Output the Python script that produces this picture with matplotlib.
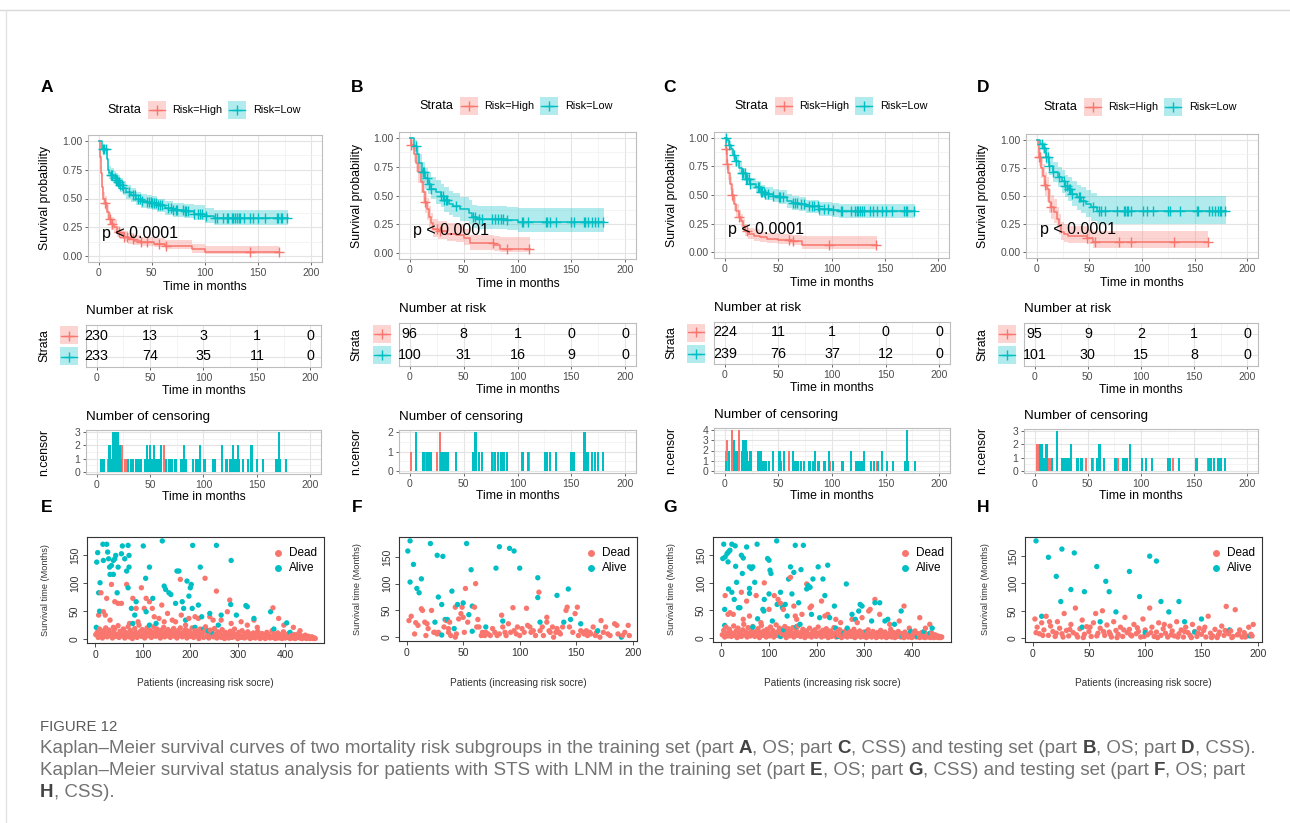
import numpy as np
import matplotlib.pyplot as plt
from matplotlib.patches import Rectangle
from matplotlib.lines import Line2D
from matplotlib import font_manager

RED = '#F8766D'
TEAL = '#00BFC4'
W, H = 1290, 823

# ---------------- Kaplan-Meier curves (time, survival, lower, upper) ----------------
a_hi_t = [0, 1, 2, 3, 4, 6, 8, 10, 12, 14, 17, 20, 24, 28, 33, 40, 52, 62, 88, 100]
a_hi_s = [1.0, 0.86, 0.72, 0.60, 0.50, 0.46, 0.38, 0.32, 0.28, 0.25, 0.21, 0.19, 0.17, 0.15, 0.13, 0.12, 0.11, 0.09, 0.06, 0.04]
a_hi_up = [1.0, 0.91, 0.78, 0.66, 0.56, 0.52, 0.44, 0.38, 0.34, 0.31, 0.26, 0.24, 0.22, 0.20, 0.18, 0.17, 0.16, 0.14, 0.11, 0.09]
a_hi_lo = [1.0, 0.82, 0.66, 0.54, 0.44, 0.40, 0.32, 0.27, 0.23, 0.20, 0.17, 0.15, 0.13, 0.11, 0.10, 0.09, 0.08, 0.06, 0.03, 0.02]
a_hi_end = 170
a_lo_t = [0, 3, 8, 9, 10, 12, 14, 16, 18, 20, 23, 26, 30, 35, 40, 45, 50, 55, 62, 70, 80, 90, 100, 108]
a_lo_s = [1.0, 0.93, 0.84, 0.75, 0.72, 0.70, 0.68, 0.66, 0.64, 0.62, 0.59, 0.56, 0.53, 0.50, 0.48, 0.47, 0.46, 0.44, 0.42, 0.40, 0.39, 0.37, 0.35, 0.33]
a_lo_up = [1.0, 0.96, 0.89, 0.80, 0.78, 0.76, 0.74, 0.72, 0.70, 0.68, 0.65, 0.62, 0.59, 0.56, 0.54, 0.53, 0.52, 0.50, 0.48, 0.46, 0.45, 0.44, 0.42, 0.40]
a_lo_lo = [1.0, 0.90, 0.80, 0.70, 0.67, 0.65, 0.63, 0.60, 0.58, 0.56, 0.53, 0.50, 0.47, 0.44, 0.42, 0.41, 0.40, 0.38, 0.36, 0.34, 0.33, 0.31, 0.29, 0.27]
a_lo_end = 178

b_hi_t = [0, 1, 4, 6, 8, 10, 12, 14, 16, 18, 20, 22, 26, 35, 43, 50, 56, 78, 84]
b_hi_s = [1.0, 0.94, 0.86, 0.78, 0.70, 0.62, 0.53, 0.44, 0.38, 0.31, 0.26, 0.21, 0.19, 0.17, 0.16, 0.13, 0.085, 0.075, 0.035]
b_hi_up = [1.0, 1.0, 0.93, 0.86, 0.79, 0.72, 0.63, 0.54, 0.48, 0.41, 0.35, 0.30, 0.28, 0.26, 0.25, 0.21, 0.16, 0.15, 0.14]
b_hi_lo = [1.0, 0.89, 0.79, 0.70, 0.61, 0.52, 0.43, 0.35, 0.29, 0.23, 0.18, 0.14, 0.12, 0.11, 0.10, 0.07, 0.03, 0.02, 0.01]
b_hi_end = 112
b_lo_t = [0, 4, 7, 9, 11, 14, 17, 20, 24, 29, 32, 36, 40, 47, 55, 58, 62, 75, 90, 100]
b_lo_s = [1.0, 0.93, 0.86, 0.78, 0.70, 0.65, 0.60, 0.56, 0.53, 0.50, 0.46, 0.43, 0.41, 0.38, 0.35, 0.31, 0.30, 0.295, 0.285, 0.27]
b_lo_up = [1.0, 0.98, 0.93, 0.86, 0.79, 0.74, 0.70, 0.66, 0.63, 0.60, 0.57, 0.54, 0.52, 0.49, 0.46, 0.42, 0.41, 0.41, 0.40, 0.39]
b_lo_lo = [1.0, 0.88, 0.79, 0.70, 0.61, 0.56, 0.51, 0.47, 0.43, 0.40, 0.36, 0.33, 0.31, 0.28, 0.25, 0.22, 0.21, 0.21, 0.20, 0.18]
b_lo_end = 180

c_hi_t = [0, 1, 2, 3, 5, 7, 9, 11, 13, 15, 17, 19, 22, 27, 33, 40, 50, 63, 72]
c_hi_s = [1.0, 0.90, 0.77, 0.69, 0.60, 0.50, 0.42, 0.36, 0.31, 0.27, 0.23, 0.19, 0.16, 0.145, 0.13, 0.12, 0.105, 0.095, 0.065]
c_hi_up = [1.0, 0.94, 0.82, 0.75, 0.66, 0.56, 0.48, 0.42, 0.37, 0.33, 0.29, 0.25, 0.21, 0.20, 0.18, 0.17, 0.16, 0.15, 0.14]
c_hi_lo = [1.0, 0.86, 0.72, 0.63, 0.54, 0.44, 0.36, 0.30, 0.26, 0.22, 0.18, 0.14, 0.12, 0.10, 0.09, 0.08, 0.07, 0.06, 0.03]
c_hi_end = 143
c_lo_t = [0, 2, 4, 6, 8, 10, 13, 16, 20, 24, 29, 34, 38, 45, 51, 58, 63, 70, 76, 88, 100, 107]
c_lo_s = [1.0, 0.98, 0.94, 0.90, 0.85, 0.80, 0.74, 0.69, 0.64, 0.60, 0.57, 0.53, 0.51, 0.49, 0.48, 0.45, 0.43, 0.42, 0.40, 0.375, 0.365, 0.36]
c_lo_up = [1.0, 1.0, 0.97, 0.94, 0.89, 0.85, 0.79, 0.74, 0.69, 0.65, 0.62, 0.59, 0.57, 0.55, 0.54, 0.51, 0.49, 0.48, 0.46, 0.44, 0.43, 0.42]
c_lo_lo = [1.0, 0.96, 0.91, 0.86, 0.81, 0.75, 0.69, 0.64, 0.59, 0.55, 0.52, 0.48, 0.46, 0.44, 0.42, 0.39, 0.37, 0.36, 0.34, 0.32, 0.31, 0.30]
c_lo_end = 178

d_hi_t = [0, 1, 2, 4, 6, 8, 10, 12, 14, 17, 19, 21, 23, 26, 30, 48, 54]
d_hi_s = [1.0, 0.95, 0.85, 0.75, 0.68, 0.60, 0.56, 0.45, 0.40, 0.36, 0.30, 0.24, 0.18, 0.16, 0.148, 0.13, 0.095]
d_hi_up = [1.0, 1.0, 0.93, 0.84, 0.78, 0.71, 0.67, 0.56, 0.51, 0.47, 0.40, 0.34, 0.27, 0.25, 0.23, 0.21, 0.19]
d_hi_lo = [1.0, 0.90, 0.77, 0.66, 0.58, 0.50, 0.45, 0.35, 0.30, 0.26, 0.21, 0.16, 0.11, 0.09, 0.08, 0.07, 0.04]
d_hi_end = 163
d_lo_t = [0, 3, 6, 9, 12, 16, 20, 24, 27, 30, 34, 38, 42, 47, 52, 57]
d_lo_s = [1.0, 0.96, 0.93, 0.85, 0.77, 0.71, 0.67, 0.63, 0.59, 0.56, 0.52, 0.49, 0.46, 0.43, 0.40, 0.37]
d_lo_up = [1.0, 1.0, 0.98, 0.92, 0.85, 0.80, 0.76, 0.73, 0.69, 0.67, 0.63, 0.60, 0.58, 0.55, 0.53, 0.50]
d_lo_lo = [1.0, 0.92, 0.88, 0.78, 0.69, 0.62, 0.58, 0.53, 0.49, 0.46, 0.41, 0.38, 0.35, 0.31, 0.28, 0.25]
d_lo_end = 180

# ---------------- censoring (time, n.censor) ----------------
a_hi_cens = [(6, 1), (11, 1), (13, 1), (19, 1), (24, 2), (27, 1), (32, 1), (40, 1), (45, 1), (57, 1),
             (63, 2), (142, 1), (170, 1)]
a_lo_cens = [(4, 1), (5, 1), (7, 1), (12, 2), (13, 1), (15, 3), (16, 2), (17, 3), (18, 2), (19, 3), (20, 3),
             (22, 2), (23, 1), (29, 1), (32, 1), (34, 1), (37, 1), (39, 1), (41, 1), (45, 1), (47, 2), (49, 1),
             (50, 2), (52, 1), (54, 2), (56, 1), (58, 1), (60, 2), (65, 1), (68, 1), (70, 1), (73, 1), (74, 1),
             (79, 1), (81, 1), (82, 2), (84, 1), (90, 1), (93, 1), (95, 1), (97, 2), (101, 1), (109, 1), (111, 1),
             (117, 2), (121, 1), (122, 1), (125, 1), (126, 1), (128, 2), (130, 1), (132, 2), (133, 1), (137, 1),
             (142, 1), (145, 2), (150, 1), (156, 1), (168, 1), (169, 1), (171, 3), (172, 1), (177, 1)]
b_hi_cens = [(1, 1), (14, 1), (25, 1), (28, 2), (77, 1), (90, 1), (111, 1)]
b_lo_cens = [(6, 2), (12, 1), (13, 1), (16, 1), (18, 1), (20, 1), (29, 1), (31, 1), (32, 1), (34, 1), (35, 1),
             (43, 1), (59, 1), (61, 2), (64, 1), (67, 1), (76, 1), (79, 1), (82, 1), (85, 1), (87, 1), (90, 1),
             (104, 1), (105, 1), (110, 1), (126, 1), (127, 1), (130, 1), (136, 1), (150, 1), (152, 1), (162, 2),
             (163, 2), (165, 1), (169, 1), (172, 1), (175, 1), (179, 1)]
c_hi_cens = [(1, 2), (2, 3), (7, 4), (13, 4), (21, 1), (60, 2), (64, 1), (98, 1), (142, 1)]
c_lo_cens = [(1, 1), (4, 2), (9, 3), (11, 2), (16, 2), (17, 3), (19, 3), (20, 3), (21, 2), (23, 1), (24, 2),
             (31, 2), (32, 2), (34, 2), (35, 1), (37, 1), (38, 1), (41, 1), (45, 2), (51, 2), (52, 1), (55, 2),
             (64, 2), (66, 1), (68, 1), (71, 1), (74, 1), (79, 1), (82, 1), (84, 2), (87, 1), (88, 1), (93, 1),
             (97, 2), (101, 1), (109, 1), (110, 1), (118, 2), (122, 1), (124, 1), (125, 1), (127, 1), (129, 1),
             (130, 2), (136, 1), (139, 1), (143, 1), (147, 2), (151, 1), (157, 1), (168, 1), (170, 4), (171, 1),
             (177, 1)]
d_hi_cens = [(2, 2), (3, 2), (8, 1), (14, 1), (48, 1), (55, 1), (78, 1), (90, 1), (130, 1), (163, 1)]
d_lo_cens = [(5, 2), (7, 2), (9, 1), (11, 2), (12, 2), (16, 1), (21, 3), (26, 1), (27, 1), (29, 1), (31, 1),
             (32, 1), (34, 2), (40, 1), (41, 1), (44, 1), (54, 1), (59, 1), (61, 2), (65, 1), (76, 1), (83, 1),
             (84, 1), (86, 1), (87, 1), (90, 2), (101, 1), (105, 1), (110, 1), (125, 1), (127, 1), (136, 1),
             (152, 1), (153, 1), (164, 1), (166, 1), (169, 1), (172, 1), (174, 1), (175, 1), (179, 1)]

# ---------------- number at risk at 0, 50, 100, 150, 200 ----------------
risk_times = [0, 50, 100, 150, 200]
a_risk = ([230, 13, 3, 1, 0], [233, 74, 35, 11, 0])
b_risk = ([96, 8, 1, 0, 0], [100, 31, 16, 9, 0])
c_risk = ([224, 11, 1, 0, 0], [239, 76, 37, 12, 0])
d_risk = ([95, 9, 2, 1, 0], [101, 30, 15, 8, 0])

# ---------------- survival status scatter (patient, months) ----------------
e_alive = [(2, 21), (3, 138), (5, 155), (7, 83), (9, 50), (10, 101), (16, 170), (17, 141), (24, 170), (26, 156),
           (28, 144), (30, 129), (31, 116), (34, 132), (38, 116), (38, 141), (41, 144), (43, 150), (46, 83),
           (48, 129), (55, 153), (57, 167), (62, 144), (66, 122), (69, 168), (69, 92), (71, 150), (71, 129),
           (76, 55), (79, 28), (83, 43), (86, 67), (101, 167), (106, 109), (107, 49), (114, 129), (114, 25),
           (121, 73), (128, 28), (141, 176), (145, 95), (148, 89), (155, 83), (159, 80), (169, 64), (172, 122),
           (176, 122), (183, 67), (186, 55), (190, 34), (193, 104), (197, 77), (200, 92), (202, 98), (204, 55),
           (205, 168), (210, 21), (217, 61), (221, 129), (224, 40), (228, 18), (238, 15), (241, 46), (248, 9),
           (255, 168), (259, 25), (265, 43), (285, 62), (286, 141), (297, 43), (317, 60), (320, 58), (334, 37),
           (369, 49), (376, 18), (403, 29), (410, 12)]
e_dead = [(7, 43), (12, 83), (17, 49), (21, 43), (24, 73), (31, 34), (34, 98), (38, 21), (41, 67), (48, 64),
          (55, 64), (66, 98), (72, 28), (79, 73), (86, 55), (90, 31), (97, 92), (103, 55), (107, 73), (114, 67),
          (120, 55), (124, 40), (134, 37), (140, 61), (145, 31), (152, 46), (162, 34), (169, 31), (179, 107),
          (181, 43), (190, 25), (197, 37), (210, 40), (217, 37), (231, 109), (241, 40), (248, 34), (255, 86),
          (265, 34), (278, 49), (283, 70), (286, 28), (307, 31), (320, 25), (334, 34), (341, 21), (374, 56),
          (386, 37), (397, 25), (417, 21), (431, 15),
          (1, 8), (4, 12), (6, 3), (9, 18), (11, 6), (13, 10), (15, 2), (18, 15), (20, 7), (22, 20), (25, 4),
          (27, 11), (29, 16), (32, 6), (34, 9), (36, 2), (39, 13), (41, 19), (43, 5), (45, 8), (48, 24), (50, 3),
          (52, 14), (55, 10), (57, 6), (59, 18), (62, 2), (64, 12), (67, 8), (69, 22), (71, 4), (74, 15),
          (76, 10), (78, 1), (81, 7), (83, 19), (85, 12), (88, 3), (90, 9), (92, 25), (95, 14), (97, 5),
          (99, 17), (102, 8), (104, 2), (106, 12), (109, 20), (111, 6), (113, 10), (116, 15), (118, 3),
          (120, 9), (123, 22), (125, 13), (127, 5), (130, 18), (132, 7), (134, 11), (137, 2), (139, 16),
          (141, 9), (144, 21), (146, 4), (148, 12), (151, 6), (153, 17), (155, 10), (158, 3), (160, 14),
          (162, 8), (165, 19), (167, 5), (169, 11), (172, 2), (174, 15), (176, 7), (179, 20), (181, 10),
          (183, 4), (186, 13), (188, 6), (190, 17), (193, 2), (195, 9), (197, 14), (200, 5), (202, 11),
          (204, 20), (207, 3), (209, 8), (211, 15), (214, 6), (216, 12), (218, 1), (221, 18), (223, 7),
          (225, 10), (228, 3), (230, 14), (232, 22), (235, 5), (237, 9), (239, 2), (242, 16), (244, 7),
          (246, 12), (249, 4), (251, 19), (253, 8), (256, 2), (258, 13), (260, 6), (263, 10), (265, 3),
          (267, 17), (270, 7), (272, 1), (274, 12), (277, 5), (279, 9), (281, 2), (284, 14), (286, 6), (288, 3),
          (291, 10), (293, 18), (295, 4), (298, 8), (300, 1), (302, 12), (305, 5), (307, 3), (309, 15),
          (312, 7), (314, 2), (316, 10), (319, 4), (321, 13), (323, 6), (326, 1), (328, 9), (330, 3), (333, 11),
          (335, 5), (337, 2), (340, 8), (342, 14), (344, 4), (347, 1), (349, 7), (351, 10), (354, 3), (356, 6),
          (358, 1), (361, 12), (363, 4), (365, 8), (368, 2), (370, 5), (372, 15), (375, 3), (377, 9), (379, 1),
          (382, 6), (384, 11), (386, 2), (389, 4), (391, 8), (393, 1), (396, 13), (398, 5), (400, 2), (403, 7),
          (405, 3), (407, 10), (410, 1), (412, 6), (414, 4), (417, 2), (419, 8), (421, 1), (424, 5), (426, 3),
          (428, 10), (431, 2), (433, 6), (435, 1), (438, 4), (440, 2), (442, 7), (445, 1), (447, 3), (449, 5),
          (452, 1), (454, 2), (456, 4), (459, 1), (461, 2), (463, 1)]

f_alive = [(1, 161), (3, 180), (3, 103), (6, 136), (9, 91), (11, 83), (13, 109), (21, 175), (25, 28), (27, 153),
           (28, 75), (31, 61), (31, 4), (32, 151), (34, 33), (36, 33), (40, 86), (42, 16), (45, 61), (50, 64),
           (53, 175), (55, 42), (57, 126), (58, 58), (58, 11), (70, 19), (79, 129), (82, 169), (85, 30),
           (91, 166), (95, 161), (100, 129), (116, 111), (116, 74), (118, 28), (133, 78), (139, 28), (143, 90),
           (145, 33), (154, 25), (169, 12), (190, 0)]
f_dead = [(2, 31), (4, 39), (7, 6), (8, 27), (10, 22), (13, 53), (14, 50), (16, 28), (17, 3), (18, 25), (19, 16),
          (22, 50), (24, 9), (25, 9), (27, 6), (28, 9), (33, 19), (35, 31), (37, 16), (37, 9), (38, 28), (39, 3),
          (43, 0), (43, 56), (44, 6), (46, 34), (48, 44), (49, 56), (50, 37), (51, 9), (52, 91), (54, 28),
          (60, 56), (61, 100), (62, 19), (63, 33), (64, 19), (66, 3), (67, 9), (69, 3), (70, 9), (72, 6), (74, 3),
          (76, 16), (78, 9), (80, 3), (82, 6), (84, 41), (85, 19), (87, 9), (88, 3), (90, 25), (92, 9), (94, 55),
          (95, 12), (97, 6), (98, 19), (100, 3), (102, 16), (104, 9), (106, 54), (107, 22), (109, 19), (110, 9),
          (112, 12), (114, 3), (117, 84), (118, 12), (120, 19), (121, 3), (124, 28), (124, 37), (126, 12),
          (127, 9), (129, 19), (130, 0), (132, 9), (133, 16), (135, 9), (136, 6), (138, 19), (141, 50),
          (142, 56), (144, 19), (147, 9), (149, 44), (151, 56), (152, 3), (154, 12), (156, 9), (157, 6),
          (159, 12), (160, 3), (162, 9), (163, 6), (165, 19), (167, 3), (168, 9), (171, 0), (172, 31), (174, 9),
          (176, 19), (178, 6), (180, 3), (184, 25), (186, 22), (187, 6), (191, 3), (193, 9), (196, 22), (197, 3)]

g_alive = [(3, 144), (5, 170), (7, 52), (7, 23), (8, 147), (12, 153), (14, 138), (15, 156), (15, 89), (18, 159),
           (22, 170), (22, 83), (27, 70), (29, 167), (30, 130), (32, 101), (36, 55), (39, 55), (42, 150),
           (44, 117), (46, 145), (53, 165), (59, 129), (59, 90), (59, 81), (63, 126), (66, 129), (66, 20),
           (70, 101), (75, 170), (76, 35), (87, 52), (89, 49), (90, 70), (97, 144), (100, 141), (100, 80),
           (102, 123), (104, 117), (107, 31), (116, 176), (117, 61), (124, 83), (124, 3), (128, 55), (131, 15),
           (134, 61), (138, 40), (141, 107), (145, 129), (148, 80), (152, 119), (155, 168), (158, 21), (162, 64),
           (165, 25), (167, 124), (172, 168), (179, 89), (182, 95), (186, 92), (189, 43), (192, 107), (203, 129),
           (206, 37), (213, 107), (217, 77), (223, 132), (227, 37), (237, 58), (240, 18), (244, 3), (257, 9),
           (262, 98), (264, 18), (274, 43), (281, 34), (288, 49), (291, 61), (295, 58), (305, 12), (315, 31),
           (322, 64), (332, 64), (343, 31), (349, 34), (363, 25), (377, 49), (380, 3), (397, 12), (411, 3),
           (425, 12), (438, 9), (442, 18)]
g_dead = [(8, 77), (14, 43), (18, 46), (25, 43), (42, 83), (46, 34), (53, 67), (59, 40), (73, 77), (83, 28),
          (90, 100), (100, 52), (111, 77), (119, 70), (124, 63), (130, 52), (145, 110), (152, 58), (155, 40),
          (158, 34), (169, 43), (179, 98), (186, 55), (189, 58), (210, 67), (217, 40), (223, 43), (240, 34),
          (250, 28), (274, 34), (285, 28), (295, 37), (309, 49), (312, 52), (322, 70), (332, 43), (353, 25),
          (373, 31), (383, 58), (394, 18), (416, 37), (428, 18), (437, 25),
          (2, 6), (5, 14), (7, 2), (10, 20), (12, 9), (14, 4), (17, 16), (19, 11), (21, 3), (24, 8), (26, 22),
          (28, 5), (31, 13), (33, 1), (35, 18), (38, 7), (40, 10), (42, 3), (45, 15), (47, 25), (49, 6), (52, 11),
          (54, 2), (56, 19), (59, 8), (61, 4), (63, 14), (66, 21), (68, 9), (70, 3), (73, 12), (75, 6), (77, 17),
          (80, 1), (82, 10), (84, 23), (87, 5), (89, 13), (91, 8), (94, 2), (96, 16), (98, 11), (101, 4),
          (103, 20), (105, 7), (108, 14), (110, 2), (112, 9), (115, 24), (117, 5), (119, 12), (122, 18),
          (124, 3), (126, 8), (129, 15), (131, 6), (133, 21), (136, 1), (138, 10), (140, 17), (143, 4),
          (145, 12), (147, 7), (150, 19), (152, 2), (154, 9), (157, 14), (159, 5), (161, 22), (164, 8), (166, 3),
          (168, 11), (171, 16), (173, 6), (175, 1), (178, 13), (180, 9), (182, 4), (185, 18), (187, 7), (189, 2),
          (192, 12), (194, 5), (196, 15), (199, 3), (201, 9), (203, 20), (206, 6), (208, 11), (210, 2),
          (213, 14), (215, 7), (217, 4), (220, 17), (222, 10), (224, 1), (227, 8), (229, 13), (231, 3), (234, 6),
          (236, 19), (238, 9), (241, 2), (243, 12), (245, 5), (248, 15), (250, 8), (252, 1), (255, 11),
          (257, 4), (259, 7), (262, 14), (264, 2), (266, 9), (269, 5), (271, 12), (273, 3), (276, 7), (278, 16),
          (280, 1), (283, 10), (285, 4), (287, 6), (290, 13), (292, 2), (294, 8), (297, 3), (299, 11), (301, 5),
          (304, 1), (306, 9), (308, 15), (311, 4), (313, 7), (315, 2), (318, 12), (320, 5), (322, 8), (325, 1),
          (327, 10), (329, 3), (332, 6), (334, 14), (336, 2), (339, 8), (341, 4), (343, 11), (346, 1), (348, 6),
          (350, 3), (353, 9), (355, 16), (357, 2), (360, 5), (362, 10), (364, 1), (367, 7), (369, 3), (371, 12),
          (374, 4), (376, 2), (378, 8), (381, 5), (383, 1), (385, 11), (388, 3), (390, 6), (392, 2), (395, 9),
          (397, 4), (399, 1), (402, 7), (404, 3), (406, 13), (409, 2), (411, 5), (413, 8), (416, 1), (418, 4),
          (420, 10), (423, 2), (425, 6), (427, 1), (430, 3), (432, 7), (434, 2), (437, 5), (439, 1), (441, 9),
          (444, 3), (446, 1), (448, 6), (451, 2), (453, 4), (455, 1), (458, 3), (460, 1), (462, 2)]

h_alive = [(3, 178), (8, 40), (14, 148), (21, 113), (25, 67), (26, 163), (34, 89), (37, 156), (44, 20), (46, 85),
           (57, 131), (60, 30), (65, 104), (68, 85), (74, 48), (86, 122), (95, 76), (100, 10), (104, 150),
           (110, 141), (114, 67), (121, 48), (130, 67), (135, 30), (144, 11), (150, 35), (175, 15), (193, 4)]
h_dead = [(2, 35), (3, 10), (4, 20), (6, 8), (8, 28), (9, 5), (10, 15), (12, 40), (14, 5), (15, 30), (16, 22),
          (18, 12), (20, 3), (21, 9), (22, 30), (24, 18), (26, 8), (27, 2), (28, 45), (30, 14), (32, 4), (33, 16),
          (34, 25), (36, 10), (38, 55), (39, 6), (40, 2), (42, 17), (44, 33), (45, 1), (46, 7), (48, 21), (50, 12),
          (51, 20), (52, 3), (54, 28), (56, 45), (57, 4), (58, 9), (60, 18), (62, 50), (63, 12), (64, 5), (66, 24),
          (68, 11), (69, 7), (70, 2), (72, 30), (74, 14), (75, 1), (76, 7), (78, 20), (80, 3), (81, 15), (82, 38),
          (84, 10), (86, 16), (87, 6), (88, 4), (90, 25), (92, 8), (93, 19), (94, 12), (96, 2), (98, 35), (99, 3),
          (100, 15), (102, 6), (104, 55), (105, 10), (106, 20), (108, 3), (110, 11), (111, 1), (112, 28),
          (114, 5), (116, 17), (117, 25), (118, 9), (120, 2), (122, 22), (123, 6), (124, 13), (126, 4), (128, 30),
          (129, 2), (130, 8), (132, 15), (134, 2), (135, 12), (136, 20), (138, 10), (140, 5), (141, 1), (142, 25),
          (144, 12), (146, 3), (147, 9), (148, 18), (150, 7), (152, 14), (153, 20), (154, 2), (156, 40), (158, 9),
          (159, 1), (160, 4), (162, 16), (164, 1), (165, 6), (166, 11), (168, 22), (170, 5), (171, 14), (172, 58),
          (174, 8), (176, 13), (177, 1), (178, 3), (180, 52), (182, 6), (183, 8), (184, 15), (186, 2), (188, 10),
          (189, 2), (190, 4), (192, 20), (194, 7), (195, 4), (196, 25)]

# ---------------- layout (pixel boxes x0, y0, x1, y1) ----------------
columns = [
    dict(letter='A', low='E', hi=(a_hi_t, a_hi_s, a_hi_lo, a_hi_up, a_hi_end, a_hi_cens),
         lo=(a_lo_t, a_lo_s, a_lo_lo, a_lo_up, a_lo_end, a_lo_cens), risk=a_risk,
         km=(88, 135, 322, 262), rt=(86, 325, 321, 367), ce=(86, 430, 321, 474),
         sc=(87, 537, 324, 643), lx=47, legx=107, legy=110, ylx=45, keyx=69, scx=45,
         dead=e_dead, alive=e_alive, n=463, sxt=[0, 100, 200, 300, 400]),
    dict(letter='B', low='F', hi=(b_hi_t, b_hi_s, b_hi_lo, b_hi_up, b_hi_end, b_hi_cens),
         lo=(b_lo_t, b_lo_s, b_lo_lo, b_lo_up, b_lo_end, b_lo_cens), risk=b_risk,
         km=(399, 132, 636, 259), rt=(399, 323, 636, 366), ce=(399, 430, 636, 473),
         sc=(399, 537, 637, 641), lx=357, legx=419, legy=106, ylx=357, keyx=382, scx=358,
         dead=f_dead, alive=f_alive, n=196, sxt=[0, 50, 100, 150, 200]),
    dict(letter='C', low='G', hi=(c_hi_t, c_hi_s, c_hi_lo, c_hi_up, c_hi_end, c_hi_cens),
         lo=(c_lo_t, c_lo_s, c_lo_lo, c_lo_up, c_lo_end, c_lo_cens), risk=c_risk,
         km=(714, 132, 949, 258), rt=(714, 322, 950, 364), ce=(714, 428, 950, 473),
         sc=(713, 537, 951, 642), lx=670, legx=734, legy=106, ylx=672, keyx=696, scx=672,
         dead=g_dead, alive=g_alive, n=463, sxt=[0, 100, 200, 300, 400]),
    dict(letter='D', low='H', hi=(d_hi_t, d_hi_s, d_hi_lo, d_hi_up, d_hi_end, d_hi_cens),
         lo=(d_lo_t, d_lo_s, d_lo_lo, d_lo_up, d_lo_end, d_lo_cens), risk=d_risk,
         km=(1026, 134, 1258, 258), rt=(1024, 323, 1258, 366), ce=(1024, 429, 1258, 473),
         sc=(1025, 537, 1262, 642), lx=983, legx=1043, legy=107, ylx=983, keyx=1007, scx=985,
         dead=h_dead, alive=h_alive, n=196, sxt=[0, 50, 100, 150, 200]),
]

plt.rcParams['font.family'] = ['Liberation Sans', 'DejaVu Sans']
fig = plt.figure(figsize=(W / 100, H / 100), dpi=100)
fig.patch.set_facecolor('white')


def fx(x):
    return x / W


def fy(y):
    return 1 - y / H


def px_axes(box):
    x0, y0, x1, y1 = box
    return fig.add_axes([x0 / W, 1 - y1 / H, (x1 - x0) / W, (y1 - y0) / H])


def ftext(x, y, s, **kw):
    kw.setdefault('ha', 'center')
    kw.setdefault('va', 'center')
    return fig.text(fx(x), fy(y), s, **kw)


def key(xc, yc, color, size=18):
    fig.add_artist(Rectangle((fx(xc - size / 2), fy(yc + size / 2)), size / W, size / H,
                             transform=fig.transFigure, facecolor=color, alpha=0.3, lw=0))
    fig.add_artist(Line2D([fx(xc - size / 2 + 1), fx(xc + size / 2 - 1)], [fy(yc), fy(yc)],
                          transform=fig.transFigure, color=color, lw=1))
    fig.add_artist(Line2D([fx(xc)], [fy(yc)], transform=fig.transFigure, color=color,
                          marker='+', ms=7, mew=1))


def gg_style(ax, ylim, yticks, yminor=None):
    ax.set_facecolor('white')
    for sp in ax.spines.values():
        sp.set_color('#bdbdbd')
        sp.set_linewidth(0.8)
    ax.set_xlim(-10, 210)
    ax.set_xticks([0, 50, 100, 150, 200])
    ax.set_xticks([25, 75, 125, 175], minor=True)
    ax.set_ylim(*ylim)
    ax.set_yticks(yticks)
    if yminor is not None:
        ax.set_yticks(yminor, minor=True)
    ax.grid(True, which='major', color='#e4e4e4', lw=0.8)
    ax.grid(True, which='minor', color='#f0f0f0', lw=0.5)
    ax.set_axisbelow(True)
    ax.tick_params(which='major', length=2.5, width=0.6, color='#4d4d4d', labelcolor='#4d4d4d',
                   labelsize=7.5, pad=1.5)
    ax.tick_params(which='minor', length=0)


def step_value(t, s, x):
    idx = np.searchsorted(np.asarray(t), np.asarray(x), side='right') - 1
    return np.asarray(s)[idx]


for col in columns:
    # ---- survival curves ----
    ax = px_axes(col['km'])
    gg_style(ax, (-0.05, 1.05), [0, 0.25, 0.5, 0.75, 1.0], [0.125, 0.375, 0.625, 0.875])
    ax.set_yticklabels(['0.00', '0.25', '0.50', '0.75', '1.00'])
    for (t, s, lo, up, end, cens), color in [(col['hi'], RED), (col['lo'], TEAL)]:
        tt = list(t) + [end]
        ax.fill_between(tt, list(lo) + [lo[-1]], list(up) + [up[-1]], step='post',
                        color=color, alpha=0.3, lw=0)
        ax.step(tt, list(s) + [s[-1]], where='post', color=color, lw=1.1)
        ct = [c[0] for c in cens]
        ax.plot(ct, step_value(t, s, ct), ls='none', marker='+', color=color, ms=6.5, mew=1)
    ax.text(3, 0.2, 'p < 0.0001', fontsize=11.5, ha='left', va='center')
    x0, y0, x1, y1 = col['km']
    ftext((x0 + x1) / 2, y1 + 25, 'Time in months', fontsize=8.8)
    ftext(col['ylx'], (y0 + y1) / 2, 'Survival probability', fontsize=8.8, rotation=90)
    ftext(col['lx'], 87, col['letter'], fontsize=12.5, fontweight='bold')

    # legend above
    lx, ly = col['legx'], col['legy']
    ftext(lx, ly, 'Strata', fontsize=9, ha='left')
    key(lx + 50, ly, RED)
    ftext(lx + 65, ly, 'Risk=High', fontsize=7.8, ha='left')
    key(lx + 130, ly, TEAL)
    ftext(lx + 146, ly, 'Risk=Low', fontsize=7.8, ha='left')

    # ---- number at risk ----
    ax = px_axes(col['rt'])
    gg_style(ax, (0.5, 2.5), [1, 2])
    ax.tick_params(axis='y', length=0, labelleft=False)
    hi_n, lo_n = col['risk']
    for xi, a, b in zip(risk_times, hi_n, lo_n):
        ax.text(xi, 2, str(a), fontsize=10.3, ha='center', va='center')
        ax.text(xi, 1, str(b), fontsize=10.3, ha='center', va='center')
    x0, y0, x1, y1 = col['rt']
    ftext(x0, y0 - 14, 'Number at risk', fontsize=9.6, ha='left')
    ftext((x0 + x1) / 2, y1 + 24, 'Time in months', fontsize=8.8)
    ftext(col['ylx'] - 1, (y0 + y1) / 2, 'Strata', fontsize=8.8, rotation=90)
    rh = (y1 - y0) / 4
    key(col['keyx'], y0 + rh, RED)
    key(col['keyx'], y0 + 3 * rh, TEAL)

    # ---- number of censoring ----
    ax = px_axes(col['ce'])
    hc, lc = col['hi'][5], col['lo'][5]
    top = max(c[1] for c in hc + lc)
    gg_style(ax, (-0.05 * top, 1.05 * top), list(range(top + 1)),
             [k + 0.5 for k in range(top)])
    ax.bar([c[0] for c in hc], [c[1] for c in hc], width=2.0, color=RED, lw=0)
    ax.bar([c[0] for c in lc], [c[1] for c in lc], width=2.0, color=TEAL, lw=0)
    x0, y0, x1, y1 = col['ce']
    ftext(x0, y0 - 13, 'Number of censoring', fontsize=9.6, ha='left')
    ftext((x0 + x1) / 2, y1 + 23, 'Time in months', fontsize=8.8)
    ftext(col['ylx'] - 1, (y0 + y1) / 2, 'n.censor', fontsize=8.8, rotation=90)

    # ---- survival status scatter ----
    ax = px_axes(col['sc'])
    pts = [(x, y, RED) for x, y in col['dead']] + [(x, y, TEAL) for x, y in col['alive']]
    pts.sort(key=lambda p: p[0])
    ax.scatter([p[0] for p in pts], [p[1] for p in pts], c=[p[2] for p in pts], s=15, lw=0)
    n = col['n']
    ax.set_xlim(1 - 0.04 * (n - 1), n + 0.04 * (n - 1))
    ymax = max(p[1] for p in pts)
    ax.set_ylim(-0.04 * ymax, 1.04 * ymax)
    ax.set_xticks(col['sxt'])
    ax.set_yticks([0, 50, 100, 150])
    for sp in ax.spines.values():
        sp.set_color('#333333')
        sp.set_linewidth(0.8)
    ax.tick_params(length=3, width=0.6, color='#333333', labelcolor='#333333', labelsize=7.5, pad=2)
    for lab in ax.get_yticklabels():
        lab.set_rotation(90)
        lab.set_va('center')
    x0, y0, x1, y1 = col['sc']
    ftext((x0 + x1) / 2, 683, 'Patients (increasing risk socre)', fontsize=7.2, color='#333333')
    ftext(col['scx'], (y0 + y1) / 2, 'Survival time (Months)', fontsize=6.6, rotation=90,
          color='#333333')
    ftext(col['lx'], 507, col['low'], fontsize=12.5, fontweight='bold')
    for yy, color, lab in [(553, RED, 'Dead'), (568, TEAL, 'Alive')]:
        fig.add_artist(Line2D([fx(x1 - 46)], [fy(yy)], transform=fig.transFigure, ls='none',
                              marker='o', ms=5, mew=0, color=color))
        ftext(x1 - 35, yy, lab, fontsize=8.5, ha='left')

# frame lines of the page
fig.add_artist(Line2D([0, 1], [fy(10), fy(10)], transform=fig.transFigure, color='#d9d9d9', lw=1))
fig.add_artist(Line2D([fx(6), fx(6)], [fy(10), 0], transform=fig.transFigure, color='#e3e3e3', lw=1))

# ---------------- caption ----------------
names = {f.name for f in font_manager.fontManager.ttflist}
cap_family = 'Liberation Sans Narrow' if 'Liberation Sans Narrow' in names else 'Liberation Sans'
renderer = fig.canvas.get_renderer()


def text_width(s, **kw):
    t = fig.text(0, 0, s, **kw)
    w = t.get_window_extent(renderer).width
    t.remove()
    return w


line1 = [("Kaplan\u2013Meier survival curves of two mortality risk subgroups in the training set (part ", False),
         ("A", True), (", OS; part ", False), ("C", True), (", CSS) and testing set (part ", False),
         ("B", True), (", OS; part ", False), ("D", True), (", CSS).", False)]
line2 = [("Kaplan\u2013Meier survival status analysis for patients with STS with LNM in the training set (part ", False),
         ("E", True), (", OS; part ", False), ("G", True), (", CSS) and testing set (part ", False),
         ("F", True), (", OS; part", False)]
line3 = [("H", True), (", CSS).", False)]


def seg_width(s, bold, size):
    kw = dict(fontsize=size, family=cap_family, fontweight='bold' if bold else 'normal')
    return text_width(s + '|', **kw) - text_width('|', **kw)


base = sum(seg_width(s, b, 10) for s, b in line1)
cap_size = 10 * 1222 / base


def rich_line(x, y, parts):
    cur = x
    for s, bold in parts:
        fig.text(fx(cur), fy(y), s, fontsize=cap_size, family=cap_family,
                 fontweight='bold' if bold else 'normal',
                 color='#444444' if bold else '#737373', ha='left', va='baseline')
        cur += seg_width(s, bold, cap_size)


fig.text(fx(40), fy(731), 'FIGURE 12', fontsize=cap_size * 0.8, family=cap_family,
         color='#5a5a5a', ha='left', va='baseline')
rich_line(40, 753, line1)
rich_line(40, 775, line2)
rich_line(40, 797, line3)

fig.savefig('out.png', dpi=100, facecolor='white')
